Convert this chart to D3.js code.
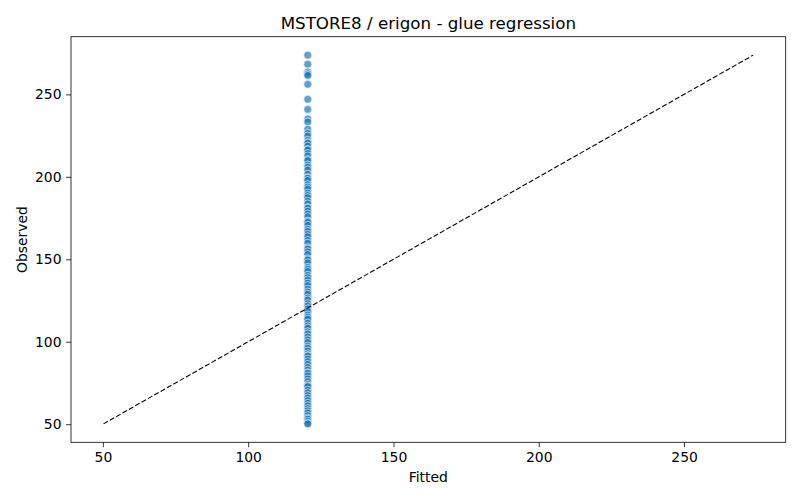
<!DOCTYPE html>
<html>
<head>
<meta charset="utf-8">
<script src="https://cdn.jsdelivr.net/npm/d3@7"></script>
<style>
  body { margin: 0; background: #fff; }
  text { font-family: "DejaVu Sans", sans-serif; fill: #000; }
</style>
</head>
<body>
<div id="chart"></div>
<script>
// Observed values (all points share the same fitted value)
var fitted_value = 120.5;
var observed_values = [
  273.8, 268.3, 263.6, 262.4, 261.5, 256.1, 247.0, 240.9, 235.1, 233.3,
  228.9, 226.4, 224.8, 222.1, 220.7, 220.4, 218.6, 216.5, 216.3, 214.2,
  212.7, 210.5, 209.8, 207.2, 205.9, 204.1, 201.6, 199.4, 199.2, 197.8,
  195.3, 193.9, 192.6, 190.1, 188.7, 187.4, 185.2, 183.6, 181.3, 181.0,
  179.2, 177.5, 175.8, 173.1, 172.4, 170.6, 168.2, 166.9, 165.1, 163.7,
  161.4, 159.8, 157.0, 156.2, 154.5, 152.9, 150.3, 149.6, 147.8, 145.1,
  144.0, 142.6, 140.3, 138.9, 137.4, 135.6, 134.1, 131.9, 130.2, 128.8,
  126.5, 125.3, 123.1, 121.7, 120.0, 118.4, 116.2, 114.9, 113.7, 111.3,
  109.6, 108.2, 106.0, 104.7, 102.9, 101.1, 99.5, 97.3, 96.1, 94.4,
  92.7, 91.6, 91.3, 89.5, 87.9, 86.2, 84.4, 82.8, 81.2, 80.9,
  79.3, 77.5, 75.8, 74.1, 73.2, 72.8, 70.6, 69.1, 67.4, 65.9,
  64.3, 62.7, 61.2, 59.5, 58.1, 56.8, 55.2, 53.6, 53.1, 51.8,
  50.6, 50.2
];
var x_ticks = [50, 100, 150, 200, 250];
var y_ticks = [50, 100, 150, 200, 250];

var width = 800, height = 500;
var plot_left = 71, plot_right = 785.7, plot_top = 36.7, plot_bottom = 442.3;

var svg = d3.select("#chart").append("svg")
  .attr("width", width)
  .attr("height", height);

// Diagonal spans min..max of observed and fitted, axes get 5% margin
var lo = Math.min(d3.min(observed_values), fitted_value);
var hi = Math.max(d3.max(observed_values), fitted_value);
var pad = (hi - lo) * 0.05;

var x_scale = d3.scaleLinear().domain([lo - pad, hi + pad]).range([plot_left, plot_right]);
var y_scale = d3.scaleLinear().domain([lo - pad, hi + pad]).range([plot_bottom, plot_top]);

// Scatter points
svg.append("g")
  .selectAll("circle")
  .data(observed_values)
  .enter()
  .append("circle")
  .attr("cx", x_scale(fitted_value))
  .attr("cy", function (d) { return y_scale(d); })
  .attr("r", 4)
  .attr("fill", "#1f77b4")
  .attr("fill-opacity", 0.7)
  .attr("stroke", "#fff")
  .attr("stroke-opacity", 0.7)
  .attr("stroke-width", 0.9);

// y = x reference line
svg.append("line")
  .attr("x1", x_scale(lo)).attr("y1", y_scale(lo))
  .attr("x2", x_scale(hi)).attr("y2", y_scale(hi))
  .attr("stroke", "#000")
  .attr("stroke-width", 1.1)
  .attr("stroke-dasharray", "5.1,2.2");

// Axes
var x_axis = d3.axisBottom(x_scale).tickValues(x_ticks).tickSize(4.9).tickPadding(4.6).tickFormat(d3.format("d"));
var y_axis = d3.axisLeft(y_scale).tickValues(y_ticks).tickSize(4.9).tickPadding(4.6).tickFormat(d3.format("d"));

var gx = svg.append("g").attr("transform", "translate(0," + plot_bottom + ")").call(x_axis);
var gy = svg.append("g").attr("transform", "translate(" + plot_left + ",0)").call(y_axis);
[gx, gy].forEach(function (g) {
  g.select(".domain").remove();
  g.selectAll(".tick line").attr("stroke", "#000").attr("stroke-width", 0.8);
  g.selectAll(".tick text").style("font-size", "13.9px").style("font-family", "DejaVu Sans").attr("fill", "#000");
});

// Frame
svg.append("rect")
  .attr("x", plot_left).attr("y", plot_top)
  .attr("width", plot_right - plot_left).attr("height", plot_bottom - plot_top)
  .attr("fill", "none").attr("stroke", "#000").attr("stroke-width", 0.8);

// Title and labels
svg.append("text")
  .attr("x", (plot_left + plot_right) / 2).attr("y", 28.5)
  .attr("text-anchor", "middle")
  .style("font-size", "16.7px")
  .text("MSTORE8 / erigon - glue regression");

svg.append("text")
  .attr("x", (plot_left + plot_right) / 2).attr("y", 482)
  .attr("text-anchor", "middle")
  .style("font-size", "13.9px")
  .text("Fitted");

svg.append("text")
  .attr("transform", "translate(27," + ((plot_top + plot_bottom) / 2) + ") rotate(-90)")
  .attr("text-anchor", "middle")
  .style("font-size", "13.9px")
  .text("Observed");
</script>
</body>
</html>
